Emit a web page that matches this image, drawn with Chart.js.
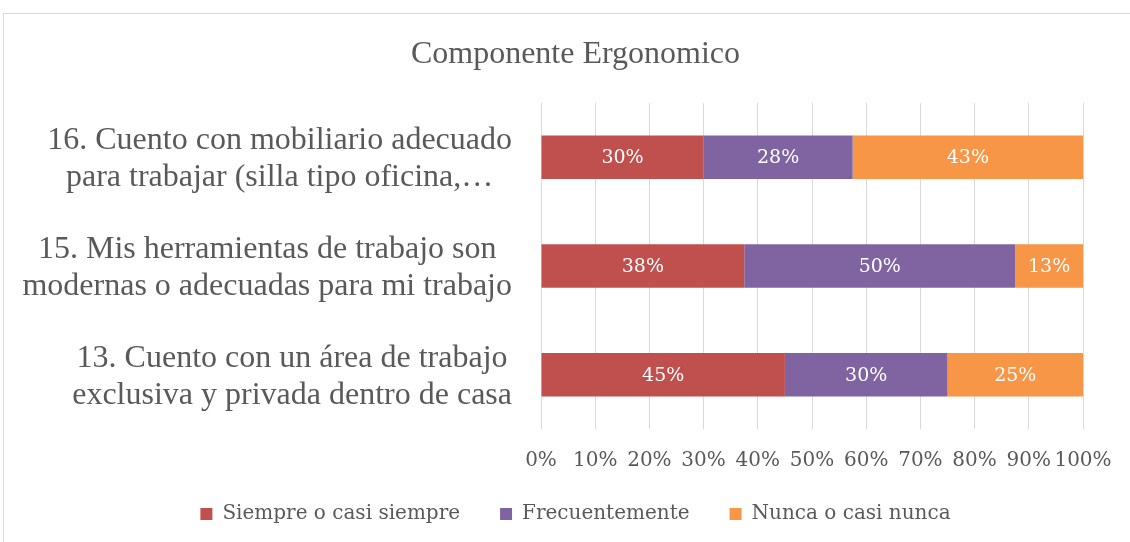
<!DOCTYPE html>
<html>
<head>
<meta charset="utf-8">
<script src="https://cdn.jsdelivr.net/npm/chart.js@4/dist/chart.umd.min.js"></script>
<style>
  html, body { margin: 0; padding: 0; background: #fff; }
  #wrap { position: relative; width: 1130px; height: 542px; overflow: hidden; }
  #frame { position: absolute; left: 3px; top: 13px; width: 1140px; height: 560px; border: 1px solid #d9d9d9; box-sizing: border-box; }
  canvas { position: absolute; left: 0; top: 0; }
</style>
</head>
<body>
<div id="wrap">
  <div id="frame"></div>
  <canvas id="chartCanvas" width="1130" height="542"></canvas>
</div>
<script>
// Componente Ergonomico: barras apiladas al 100%
const categories = [
  ['16. Cuento con mobiliario adecuado', 'para trabajar (silla tipo oficina,…'],
  ['15. Mis herramientas de trabajo son', 'modernas o adecuadas para mi trabajo'],
  ['13. Cuento con un área de trabajo', 'exclusiva y privada dentro de casa']
];
const seriesNames = ['Siempre o casi siempre', 'Frecuentemente', 'Nunca o casi nunca'];
const siempre = [30, 37.5, 45];
const frecuente = [27.5, 50, 30];
const nunca = [42.5, 12.5, 25];
const seriesColors = ['#c0504d', '#8064a2', '#f79646'];
const xTicks = [0, 10, 20, 30, 40, 50, 60, 70, 80, 90, 100];

const serif = 'Liberation Serif';
const smallSerif = 'DejaVu Serif';
const grey = '#595959';

// etiquetas blancas dentro de cada segmento
const dataLabels = {
  id: 'dataLabels',
  afterDatasetsDraw(chart) {
    const ctx = chart.ctx;
    ctx.save();
    ctx.fillStyle = '#ffffff';
    ctx.font = `19px "${smallSerif}"`;
    ctx.textAlign = 'center';
    ctx.textBaseline = 'middle';
    chart.data.datasets.forEach((ds, i) => {
      chart.getDatasetMeta(i).data.forEach((bar, j) => {
        const p = bar.getCenterPoint();
        ctx.fillText(Math.round(ds.data[j]) + '%', p.x, p.y + 1);
      });
    });
    ctx.restore();
  }
};

// etiquetas de categoría: cada línea centrada, bloque alineado a la derecha
const categoryLabels = {
  id: 'categoryLabels',
  afterDraw(chart) {
    const ctx = chart.ctx;
    const yScale = chart.scales.y;
    const lineH = 37;
    ctx.save();
    ctx.fillStyle = grey;
    ctx.font = `32px "${serif}"`;
    ctx.textAlign = 'center';
    ctx.textBaseline = 'middle';
    chart.data.labels.forEach((lines, i) => {
      const y = yScale.getPixelForTick(i) + 2;
      const maxW = Math.max(...lines.map(l => ctx.measureText(l).width));
      const cx = 512 - maxW / 2;
      lines.forEach((l, k) => {
        ctx.fillText(l, cx, y + (k - (lines.length - 1) / 2) * lineH);
      });
    });
    ctx.restore();
  }
};

// la leyenda usa padding 40 para el espacio horizontal; se sube un poco
const legendNudge = {
  id: 'legendNudge',
  afterLayout(chart) {
    chart.legend.top -= 15;
    chart.legend.bottom -= 15;
  }
};

const datasets = [siempre, frecuente, nunca].map((vals, i) => ({
  label: seriesNames[i],
  data: vals,
  backgroundColor: seriesColors[i],
  borderWidth: 0,
  barPercentage: 0.4,
  categoryPercentage: 1
}));

new Chart(document.getElementById('chartCanvas').getContext('2d'), {
  type: 'bar',
  data: { labels: categories, datasets },
  plugins: [dataLabels, categoryLabels, legendNudge],
  options: {
    indexAxis: 'y',
    responsive: false,
    animation: false,
    layout: { padding: { left: 68, right: 47, top: 0, bottom: -7 } },
    plugins: {
      title: {
        display: true,
        text: 'Componente Ergonomico',
        color: grey,
        font: { family: serif, size: 32, weight: 'normal', lineHeight: 1.2 },
        padding: { top: 35, bottom: 29.6 }
      },
      legend: {
        position: 'bottom',
        labels: {
          color: grey,
          font: { family: smallSerif, size: 20 },
          boxWidth: 12,
          boxHeight: 12,
          padding: 40
        }
      },
      tooltip: { enabled: false }
    },
    scales: {
      x: {
        stacked: true,
        min: 0,
        max: 100,
        afterBuildTicks: (scale) => { scale.ticks = xTicks.map(v => ({ value: v })); },
        afterFit: (scale) => {
          scale.height = 50;
          scale.paddingLeft = 0;
          scale.paddingRight = 0;
        },
        ticks: {
          color: grey,
          font: { family: smallSerif, size: 20 },
          padding: 20,
          autoSkip: false,
          maxRotation: 0,
          callback: (v) => v + '%'
        },
        grid: { color: '#d9d9d9', drawTicks: false },
        border: { display: false }
      },
      y: {
        stacked: true,
        afterFit: (scale) => { scale.width = 473; },
        ticks: { display: false },
        grid: { display: false },
        border: { display: false }
      }
    }
  }
});
</script>
</body>
</html>
